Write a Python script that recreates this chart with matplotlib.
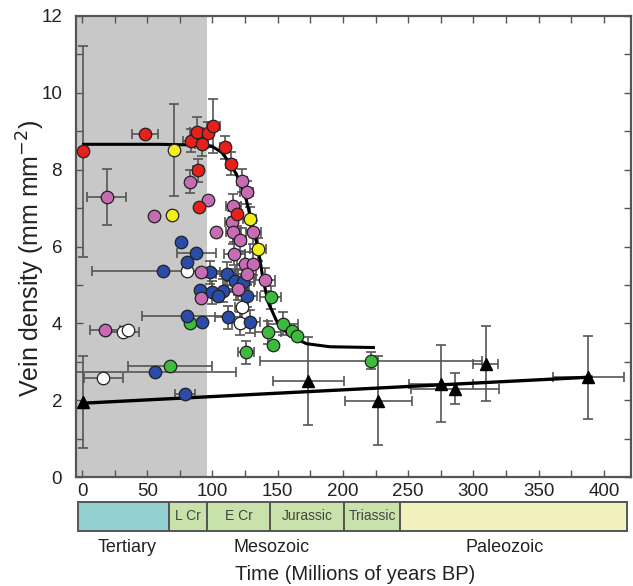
import matplotlib
matplotlib.use("Agg")
import matplotlib.pyplot as plt
from matplotlib.patches import Rectangle
from matplotlib.ticker import MultipleLocator

plt.rcParams['font.family'] = ['Liberation Sans', 'DejaVu Sans']

# ---------------- data ----------------
red_x = [0.8, 48.3, 83.3, 87.9, 91.7, 96.5, 100.6, 109.6, 114.2, 89.1, 89.5, 118.7]
red_y = [8.48, 8.92, 8.75, 8.98, 8.66, 8.95, 9.14, 8.58, 8.16, 7.99, 7.03, 6.84]
red_xerr = [0, 10, 6, 5, 5, 4, 5, 4, 4, 4, 0, 4]
red_yerr = [2.75, 0, 0.3, 0.4, 0.3, 0.3, 0.7, 0.3, 0.3, 0.3, 0, 0.3]

yel_x = [70.6, 69.2, 128.7, 135.1]
yel_y = [8.51, 6.82, 6.72, 5.93]
yel_xerr = [0, 0, 5, 6]
yel_yerr = [1.2, 0, 0.3, 0.3]

pink_x = [18.9, 54.9, 82.8, 96.8, 102.4, 122.4, 126.2, 116.0, 114.7, 116.0, 131.3,
          120.7, 116.6, 125.0, 131.3, 126.5, 140.2, 119.8, 91.0, 91.0, 17.6]
pink_y = [7.29, 6.80, 7.68, 7.21, 6.39, 7.71, 7.41, 7.06, 6.63, 6.37, 6.37,
          6.17, 5.81, 5.55, 5.55, 5.29, 5.13, 4.90, 5.33, 4.66, 3.83]
pink_xerr = [14.7, 0, 0, 0, 0, 4, 5, 6, 5, 6, 6, 5, 8, 6, 6, 7, 8, 8, 0, 0, 11.5]
pink_yerr = [0.72, 0, 0.3, 0, 0, 0.3, 0.3, 0.3, 0.3, 0.3, 0.3, 0.3, 0.3, 0.3, 0.3,
             0.3, 0.3, 0.3, 0, 0, 0]

blue_x = [75.5, 87.6, 80.2, 62.3, 98.1, 110.9, 117.2, 123.6, 90.4, 99.4, 108.3,
          104.4, 126.2, 80.2, 92.0, 112.1, 128.7, 55.9, 78.9]
blue_y = [6.12, 5.84, 5.59, 5.37, 5.33, 5.29, 5.11, 5.08, 4.88, 4.81, 4.85,
          4.71, 4.72, 4.20, 4.03, 4.16, 4.04, 2.73, 2.17]
blue_xerr = [0, 15, 0, 55, 8, 8, 8, 8, 0, 10, 8, 0, 8, 34, 0, 10, 8, 62, 8]
blue_yerr = [0, 0, 0, 0, 0.3, 0.3, 0.3, 0.3, 0, 0.3, 0.3, 0, 0.3, 0, 0, 0.3, 0.3, 0, 0]

white_x = [80.5, 122.4, 121.0, 31.7, 35.5, 16.3]
white_y = [5.37, 4.42, 4.00, 3.77, 3.83, 2.58]
white_xerr = [0, 5, 6, 12, 0, 15]
white_yerr = [0, 0.3, 0.3, 0, 0, 0]

green_x = [82.8, 67.4, 125.7, 144.6, 153.8, 160.7, 164.5, 142.8, 146.0, 221.5]
green_y = [4.02, 2.90, 3.25, 4.68, 3.99, 3.79, 3.68, 3.77, 3.44, 3.03]
green_xerr = [0, 32, 6, 8, 12, 0, 0, 10, 0, 85]
green_yerr = [0, 0, 0.3, 0.3, 0.3, 0, 0, 0.3, 0, 0.22]

tri_x = [0.8, 173.4, 227.0, 275.0, 285.8, 309.3, 388.0]
tri_y = [1.95, 2.50, 1.99, 2.43, 2.30, 2.95, 2.60]
tri_xerr = [0, 27, 25.5, 24.5, 34, 9.6, 27]
tri_yerr = [1.2, 1.14, 1.17, 1.0, 0.4, 0.98, 1.08]

fit_line_x = [0, 390]
fit_line_y = [1.92, 2.60]

curve_x = [0, 60, 90, 100, 107, 113, 118, 122.6, 126, 130, 135, 138.7, 142.5,
           149.4, 159, 172, 190, 224.5]
curve_y = [8.66, 8.66, 8.64, 8.6, 8.45, 8.19, 7.9, 7.57, 7.2, 6.63, 5.93, 5.16, 4.56,
           4.04, 3.68, 3.47, 3.39, 3.37]

shade_end = 96

period_names = ['', 'L Cr', 'E Cr', 'Jurassic', 'Triassic', '']
period_start = [-3.1, 66.7, 95.8, 144.0, 201.0, 244.0]
period_end = [66.7, 95.8, 144.0, 201.0, 244.0, 417.6]
period_colors = ['#93d0d0', '#c9e1aa', '#c9e1aa', '#c9e1aa', '#c9e1aa', '#f2f1bd']

era_names = ['Tertiary', 'Mesozoic', 'Paleozoic']
era_pos = [34.5, 145.6, 324]

# ---------------- figure ----------------
W, H = 633, 586
fig = plt.figure(figsize=(W / 100, H / 100), dpi=100)
ax = fig.add_axes([76 / W, 1 - 477 / H, 555 / W, 461 / H])
xlim = (-4.6, 420.7)
ax.set_xlim(*xlim)
ax.set_ylim(0, 12)

ax.axvspan(xlim[0], shade_end, color='#c8c8c8', zorder=0, lw=0)

ebkw = dict(fmt='none', ecolor='#555555', elinewidth=1.2, capsize=3.5, capthick=1.2, zorder=2)
for xs, ys, xe, ye in [(red_x, red_y, red_xerr, red_yerr),
                       (yel_x, yel_y, yel_xerr, yel_yerr),
                       (pink_x, pink_y, pink_xerr, pink_yerr),
                       (blue_x, blue_y, blue_xerr, blue_yerr),
                       (white_x, white_y, white_xerr, white_yerr),
                       (green_x, green_y, green_xerr, green_yerr),
                       (tri_x, tri_y, tri_xerr, tri_yerr)]:
    ax.errorbar(xs, ys, xerr=xe, yerr=ye, **ebkw)

ax.plot(curve_x, curve_y, color='black', lw=2.2, zorder=3, solid_capstyle='butt')
ax.plot(fit_line_x, fit_line_y, color='black', lw=2.4, zorder=3)

mk = dict(ls='none', marker='o', ms=9, mec='#222222', mew=0.9, zorder=4)
ax.plot(white_x, white_y, mfc='white', **mk)
ax.plot(green_x, green_y, mfc='#3dbb3d', **mk)
ax.plot(blue_x, blue_y, mfc='#2a4ca8', **mk)
ax.plot(pink_x, pink_y, mfc='#c76bb5', **mk)
ax.plot(yel_x, yel_y, mfc='#f2ee1c', **mk)
ax.plot(red_x, red_y, mfc='#e8201c', **mk)
ax.plot(tri_x, tri_y, ls='none', marker='^', ms=8.5, color='black', zorder=5)

ax.xaxis.set_major_locator(MultipleLocator(50))
ax.xaxis.set_minor_locator(MultipleLocator(25))
ax.yaxis.set_major_locator(MultipleLocator(2))
ax.yaxis.set_minor_locator(MultipleLocator(1))
ax.tick_params(which='both', direction='in', top=True, right=True, color='#555555',
               labelsize=13.5, labelcolor='#222222')
ax.tick_params(which='major', length=5, width=1)
ax.tick_params(which='minor', length=5, width=1)
ax.tick_params(axis='x', pad=4)
ax.tick_params(axis='y', pad=10)
for s in ax.spines.values():
    s.set_color('#555555')
    s.set_linewidth(1.6)
ax.set_ylabel('Vein density (mm mm$^{-2}$)', fontsize=18, color='#222222',
              va='center')
ax.yaxis.set_label_coords((31 - 76) / 555, (477 - 258) / 461)

# ---------------- geologic time bar ----------------
bar = fig.add_axes([76 / W, 1 - 531 / H, 555 / W, 29 / H])
bar.set_xlim(*xlim)
bar.set_ylim(0, 1)
bar.axis('off')
for name, s, e, c in zip(period_names, period_start, period_end, period_colors):
    bar.add_patch(Rectangle((s, 0), e - s, 1, facecolor=c, edgecolor='#555555', lw=1.4,
                            clip_on=False))
    if name:
        bar.text((s + e) / 2, 0.5, name, ha='center', va='center', fontsize=10,
                 color='#444444')

for name, p in zip(era_names, era_pos):
    fig.text(76 / W + (p - xlim[0]) / (xlim[1] - xlim[0]) * 555 / W, 1 - 548 / H, name,
             ha='center', va='center', fontsize=13, color='#222222')
fig.text(355 / W, 1 - 575 / H, 'Time (Millions of years BP)', ha='center', va='center',
         fontsize=14.5, color='#222222')

fig.savefig('out.png', dpi=100)
